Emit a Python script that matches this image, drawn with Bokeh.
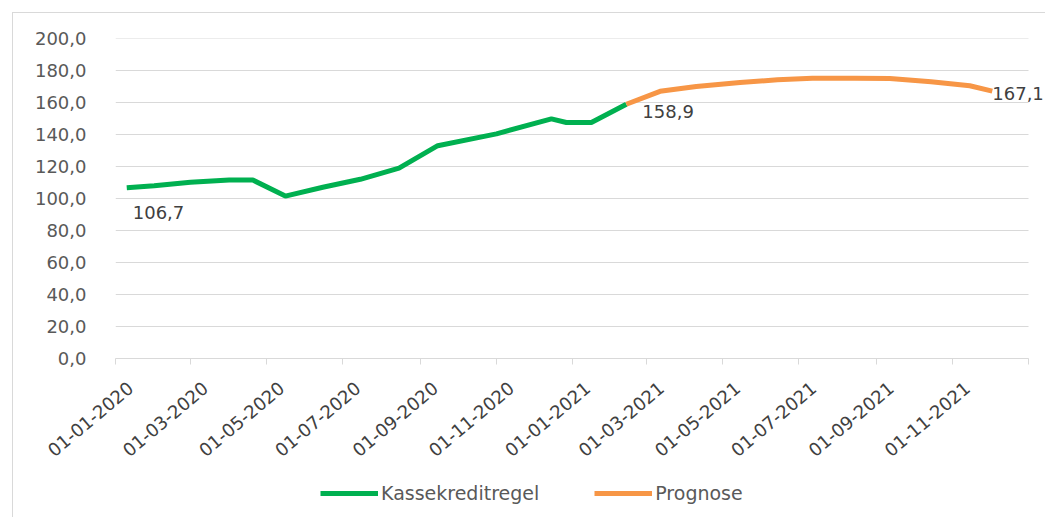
import pandas as pd
from bokeh.plotting import figure
from bokeh.layouts import column
from bokeh.models import (Range1d, FixedTicker, CustomJSTickFormatter, Legend,
                          LegendItem, ColumnDataSource, DatetimeAxis)
from bokeh.core.properties import value
from bokeh.embed import file_html
from bokeh.resources import INLINE

# ---------------- data ----------------
green_dates = ["2020-01-10", "2020-02-01", "2020-03-01", "2020-04-01", "2020-04-20",
               "2020-05-16", "2020-06-15", "2020-07-15", "2020-08-15", "2020-09-15",
               "2020-11-01", "2020-12-15", "2020-12-27", "2021-01-16", "2021-02-13"]
green_vals = [106.7, 108.0, 110.2, 111.5, 111.5,
              101.5, 107.0, 112.0, 119.0, 133.0,
              140.4, 149.8, 147.5, 147.5, 158.9]

orange_dates = ["2021-02-13", "2021-03-12", "2021-04-10", "2021-05-15", "2021-06-14",
                "2021-07-12", "2021-08-15", "2021-09-12", "2021-10-15", "2021-11-15",
                "2021-12-03"]
orange_vals = [158.9, 167.0, 170.0, 172.5, 174.2,
               175.2, 175.2, 175.0, 173.0, 170.5,
               167.1]

tick_dates = ["2020-01-01", "2020-03-01", "2020-05-01", "2020-07-01", "2020-09-01",
              "2020-11-01", "2021-01-01", "2021-03-01", "2021-05-01", "2021-07-01",
              "2021-09-01", "2021-11-01", "2022-01-01"]
y_ticks = [0, 20, 40, 60, 80, 100, 120, 140, 160, 180, 200]

series_names = ["Kassekreditregel", "Prognose"]

GREEN = "#00B050"
ORANGE = "#F79646"
GRID = "#d9d9d9"
FONT = "DejaVu Sans"
DAY = 86400000.0


def ms(d):
    return pd.Timestamp(d).value / 1e6


gx = [ms(d) for d in green_dates]
ox = [ms(d) for d in orange_dates]
tx = [ms(d) for d in tick_dates]

W = 1047
LEFT = 115
AXIS_W = 913  # pixels between first and last tick
px_per_ms = AXIS_W / (tx[-1] - tx[0])
x_end = tx[0] + (W - LEFT) / px_per_ms

p = figure(width=W, height=478, output_backend="svg", toolbar_location=None,
           x_axis_type=None,
           x_range=Range1d(tx[0], x_end), y_range=Range1d(0, 200),
           min_border_left=LEFT, min_border_right=0, min_border_top=38,
           min_border_bottom=120)
p.outline_line_color = None
p.background_fill_color = None
p.border_fill_color = None

# horizontal gridlines limited to the axis span
p.xgrid.grid_line_color = None
p.ygrid.grid_line_color = None
p.segment(x0=[tx[0]] * len(y_ticks), x1=[tx[-1]] * len(y_ticks),
          y0=y_ticks, y1=y_ticks, line_color=GRID, line_width=1)

g = p.line(gx, green_vals, line_color=GREEN, line_width=5)
o = p.line(ox, orange_vals, line_color=ORANGE, line_width=5)

# y axis
p.yaxis.ticker = FixedTicker(ticks=y_ticks)
p.yaxis.formatter = CustomJSTickFormatter(code="return tick.toFixed(1).replace('.', ',');")
p.yaxis.axis_line_color = None
p.yaxis.major_tick_line_color = None
p.yaxis.minor_tick_line_color = None
p.yaxis.major_label_standoff = 23
p.yaxis.major_label_text_font = FONT
p.yaxis.major_label_text_font_size = "18px"
p.yaxis.major_label_text_color = "#595959"

# x axis: line + tick marks (labels not drawn)
ax_ticks = DatetimeAxis(ticker=FixedTicker(ticks=tx, minor_ticks=[]),
                        bounds=(tx[0], tx[-1]),
                        axis_line_color=GRID, major_tick_line_color=GRID,
                        major_tick_in=0, major_tick_out=6,
                        minor_tick_line_color=None,
                        major_label_text_color=None,
                        major_label_text_font_size="0px", major_label_standoff=0)
p.add_layout(ax_ticks, "below")

# x axis: rotated labels (offset slightly like the original)
shift = 12 * DAY
lab_ticks = [t + shift for t in tx[:-1]]
ax_labels = DatetimeAxis(ticker=FixedTicker(ticks=lab_ticks, minor_ticks=[]),
                         formatter=CustomJSTickFormatter(code="""
    const d = new Date(tick - %d);
    const dd = String(d.getUTCDate()).padStart(2, '0');
    const mm = String(d.getUTCMonth() + 1).padStart(2, '0');
    return dd + '-' + mm + '-' + d.getUTCFullYear();
""" % int(shift)),
                         axis_line_color=None, major_tick_line_color=None,
                         minor_tick_line_color=None,
                         major_label_orientation=0.698,
                         major_label_standoff=15,
                         major_label_text_font=FONT,
                         major_label_text_font_size="18px",
                         major_label_text_color="#404040")
p.add_layout(ax_labels, "below")

# data labels
def lab(v):
    return f"{v:.1f}".replace(".", ",")

lbl = ColumnDataSource(dict(
    x=[gx[0], gx[-1], ox[-1]],
    y=[green_vals[0], green_vals[-1], orange_vals[-1]],
    t=[lab(green_vals[0]), lab(green_vals[-1]), lab(orange_vals[-1])],
    xo=[6, 16, 0],
    yo=[25, 7, 2],
))
p.text(x="x", y="y", text="t", source=lbl, x_offset="xo", y_offset="yo",
       text_font=value(FONT), text_font_size="18px", text_color="#404040",
       text_align="left", text_baseline="middle")

# legend in a small strip below the chart
leg = figure(width=W, height=39, output_backend="svg", toolbar_location=None,
             x_axis_location=None, y_axis_location=None,
             x_range=Range1d(0, 1), y_range=Range1d(0, 1),
             min_border_left=0, min_border_right=0, min_border_top=0,
             min_border_bottom=0)
leg.outline_line_color = None
leg.background_fill_color = None
leg.border_fill_color = None
leg.xgrid.grid_line_color = None
leg.ygrid.grid_line_color = None
lg = leg.line(gx, green_vals, line_color=GREEN, line_width=5)
lo = leg.line(ox, orange_vals, line_color=ORANGE, line_width=5)
legend = Legend(items=[LegendItem(label=series_names[0], renderers=[lg]),
                       LegendItem(label=series_names[1], renderers=[lo])],
                orientation="horizontal", location=(205, 13),
                border_line_color=None, background_fill_alpha=0,
                glyph_width=58, glyph_height=18, label_standoff=3, spacing=55,
                label_text_font=FONT, label_text_font_size="19px",
                label_text_color="#595959", margin=0, padding=0)
leg.add_layout(legend, "center")

frame_css = ("linear-gradient(#d9d9d9, #d9d9d9) 12px 12px / 1033px 1px no-repeat, "
             "linear-gradient(#d9d9d9, #d9d9d9) 12px 12px / 1px 600px no-repeat, "
             "white")
layout = column(p, leg, spacing=0, styles={"background": frame_css})
open("out.html", "w").write(file_html(layout, INLINE))
